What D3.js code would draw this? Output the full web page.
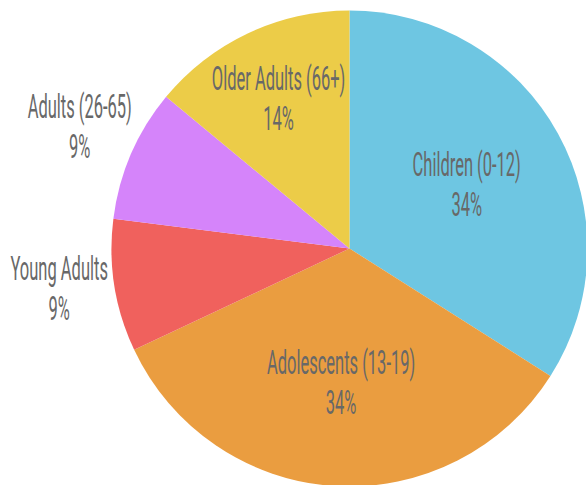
<!DOCTYPE html>
<html>
<head>
<meta charset="utf-8">
<script src="https://cdn.jsdelivr.net/npm/d3@7/dist/d3.min.js"></script>
<style>
  html, body { margin: 0; padding: 0; background: #fff; }
  svg { display: block; }
</style>
</head>
<body>
<svg id="chart" width="586" height="485"></svg>
<script>
// Age groups and their share of the total (percent)
const groups = ["Children (0-12)", "Adolescents (13-19)", "Young Adults", "Adults (26-65)", "Older Adults (66+)"];
const shares = [34, 34, 9, 9, 14];
const colors = ["#6EC6E2", "#EA9D40", "#F0615D", "#D584FA", "#ECCC48"];

const width = 586, height = 485;
const cx = 349.5, cy = 248.5, radius = 238;

const svg = d3.select("#chart");
const g = svg.append("g").attr("transform", `translate(${cx},${cy})`);

const data = groups.map((name, i) => ({ name, value: shares[i], color: colors[i] }));

const pie = d3.pie().value(d => d.value).sort(null);
const arcs = pie(data);

const arc = d3.arc().innerRadius(0).outerRadius(radius);

g.selectAll("path.slice")
  .data(arcs)
  .join("path")
  .attr("class", "slice")
  .attr("d", arc)
  .attr("fill", d => d.data.color);

// Label anchor radius: big slices sit inside, thin slices outside the pie
function labelRadius(d) {
  const pct = d.data.value;
  if (pct < 10) return radius * 1.235;
  if (pct < 20) return radius * 0.70;
  return radius * 0.562;
}

const squeeze = 0.5; // horizontal compression for a condensed look
const labels = g.selectAll("g.label")
  .data(arcs)
  .join("g")
  .attr("class", "label")
  .attr("transform", d => {
    const a = (d.startAngle + d.endAngle) / 2;
    const r = labelRadius(d);
    const lift = d.data.value < 10 ? -6 : 0;
    return `translate(${r * Math.sin(a)},${-r * Math.cos(a) + lift}) scale(${squeeze},1)`;
  });

const txt = labels.append("text")
  .attr("text-anchor", "middle")
  .attr("font-family", "Roboto, sans-serif")
  .attr("font-weight", 400)
  .attr("font-size", 33)
  .attr("fill", "#686868");

txt.append("tspan").attr("x", 0).attr("y", -8).text(d => d.data.name);
txt.append("tspan").attr("x", 0).attr("y", 32).text(d => d.data.value + "%");
</script>
</body>
</html>
